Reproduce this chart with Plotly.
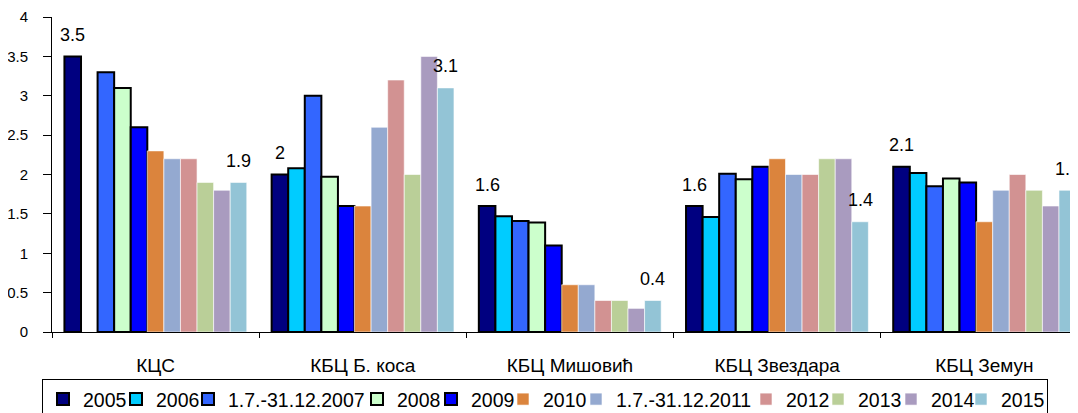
import plotly.graph_objects as go

categories = ["КЦС", "КБЦ Б. коса", "КБЦ Мишовић", "КБЦ Звездара", "КБЦ Земун"]
series_names = ["2005", "2006", "1.7.-31.12.2007", "2008", "2009", "2010",
                "1.7.-31.12.2011", "2012", "2013", "2014", "2015"]

v2005 = [3.5, 2.0, 1.6, 1.6, 2.1]
v2006 = [None, 2.08, 1.47, 1.46, 2.02]
v2007 = [3.3, 3.0, 1.41, 2.01, 1.85]
v2008 = [3.1, 1.97, 1.39, 1.94, 1.95]
v2009 = [2.6, 1.6, 1.1, 2.1, 1.9]
v2010 = [2.3, 1.6, 0.6, 2.2, 1.4]
v2011 = [2.2, 2.6, 0.6, 2.0, 1.8]
v2012 = [2.2, 3.2, 0.4, 2.0, 2.0]
v2013 = [1.9, 2.0, 0.4, 2.2, 1.8]
v2014 = [1.8, 3.5, 0.3, 2.2, 1.6]
v2015 = [1.9, 3.1, 0.4, 1.4, 1.8]
y_ticks = [0, 0.5, 1, 1.5, 2, 2.5, 3, 3.5, 4]

values = [v2005, v2006, v2007, v2008, v2009, v2010, v2011, v2012, v2013, v2014, v2015]
labelled_series = [0, 10]

# styles
colors = ["#000080", "#00CCFF", "#3366FF", "#CCFFCC", "#0000FF", "#DB843D",
          "#94A9D0", "#D29292", "#BACF98", "#A99BBF", "#93C4D6"]
outlined = [True, True, True, True, True, False, False, False, False, False, False]
legend_widths = [28, 27, 124, 29, 27, 28, 125, 27, 28, 25, 41]

FONT = "Liberation Sans, Arial, sans-serif"
PAGE_OFF = 8  # browser default body margin
W, H = 1078 - PAGE_OFF, 413 - PAGE_OFF
ML, MR, MT, MB = 52 - PAGE_OFF, 0, 16.5 - PAGE_OFF, 81
bargap = 0.12
plot_w = W - ML - MR
plot_h = H - MT - MB
cat_px = 207.2
x_max = plot_w / cat_px - 0.5

fig = go.Figure()
for i, (name, vals) in enumerate(zip(series_names, values)):
    fig.add_trace(go.Bar(
        x=categories, y=vals, name=name,
        marker=dict(color=colors[i],
                    line=dict(color="black" if outlined[i] else "rgba(255,255,255,0.6)",
                              width=2 if outlined[i] else 1)),
        legendwidth=legend_widths[i],
    ))

n = len(series_names)
annotations = []
for i in labelled_series:
    for j, v in enumerate(values[i]):
        if v is None:
            continue
        xpos = j - (1 - bargap) / 2 + (i + 0.5) * (1 - bargap) / n
        annotations.append(dict(
            x=xpos, y=v, xref="x", yref="y", text=f"{v:g}",
            showarrow=False, yanchor="middle", yshift=21.5,
            font=dict(family=FONT, size=18, color="black"),
        ))

fig.update_layout(
    width=W, height=H,
    margin=dict(l=ML, r=MR, t=MT, b=MB, pad=0, autoexpand=False),
    paper_bgcolor="white", plot_bgcolor="white",
    barmode="group", bargap=bargap, bargroupgap=0,
    font=dict(family=FONT, color="black"),
    annotations=annotations,
    legend=dict(
        orientation="h", x=(42 - 52) / plot_w, xanchor="left",
        y=(332 - 379) / plot_h, yanchor="top",
        bordercolor="black", borderwidth=1, bgcolor="white",
        font=dict(family=FONT, size=19.5, color="black"),
        itemwidth=30, traceorder="normal",
    ),
    xaxis=dict(
        type="category", range=[-0.5, x_max],
        showline=True, linecolor="black", linewidth=1,
        ticks="outside", tickson="boundaries", ticklen=5, tickcolor="black",
        tickfont=dict(family=FONT, size=19, color="black"),
        ticklabelstandoff=16, showgrid=False, zeroline=False,
    ),
    yaxis=dict(
        range=[0, 4], tickvals=y_ticks,
        showline=True, linecolor="black", linewidth=1,
        ticks="outside", ticklen=8, tickcolor="black",
        tickfont=dict(family=FONT, size=15, color="black"),
        ticklabelstandoff=12, showgrid=False, zeroline=False,
    ),
)

fig.write_html("out.html")
